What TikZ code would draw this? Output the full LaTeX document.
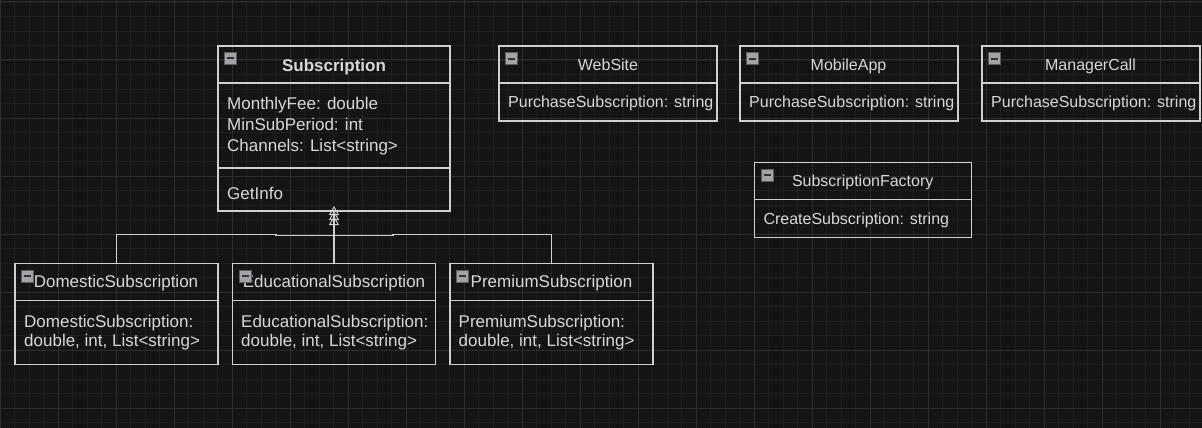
\documentclass[tikz,border=0pt]{standalone}
\usepackage{fontspec}
\setmainfont{Liberation Sans}
\usetikzlibrary{arrows.meta}
\definecolor{bg}{HTML}{141414}
\definecolor{gminor}{HTML}{1F1F1F}
\definecolor{gmajor}{HTML}{2D2D2D}
\definecolor{linec}{HTML}{D0D0D0}
\definecolor{txtc}{HTML}{D8D8D8}
\definecolor{iconf}{HTML}{A0A3A8}
\definecolor{icond}{HTML}{5C5E62}
\tikzset{
  box/.style={draw=linec, line width=1.3pt, inner sep=0pt, outer sep=0pt, anchor=north west},
  divline/.style={draw=linec, line width=1.3pt},
  lbl/.style={text=txtc, inner sep=0pt, anchor=base west, font=\fontsize{17}{20}\selectfont},
  lbls/.style={text=txtc, inner sep=0pt, anchor=base west, font=\fontsize{16}{19}\selectfont},
  ttl/.style={text=txtc, inner sep=0pt, anchor=base, font=\fontsize{17}{20}\selectfont},
  ttls/.style={text=txtc, inner sep=0pt, anchor=base, font=\fontsize{16}{19}\selectfont},
  edge/.style={draw=linec, line width=1.3pt, -{Triangle[open, length=9pt, width=10pt, line width=1pt]}},
  minusicon/.pic={
    \draw[draw=icond, fill=iconf, line width=0.8pt] (0,0) rectangle (12,12);
    \draw[draw=black!80, line width=2pt] (2.5,6) -- (9.5,6);
  },
  gridminor/.style={draw=gminor, line width=0.9pt},
  gridmajor/.style={draw=gmajor, line width=1pt}
}
\begin{document}
\begin{tikzpicture}[x=1pt, y=-1pt]
\useasboundingbox (0,0) rectangle (1202,428);
\fill[bg] (0,0) rectangle (1202,428);
% grid
\foreach \i in {0,...,82} { \pgfmathsetmacro\gx{0.3+14.5*\i} \draw[gridminor] (\gx,0) -- (\gx,428); }
\foreach \j in {0,...,29} { \pgfmathsetmacro\gy{2+14.5*\j} \draw[gridminor] (0,\gy) -- (1202,\gy); }
\foreach \i in {0,...,20} { \pgfmathsetmacro\gx{0.3+58*\i} \draw[gridmajor] (\gx,0) -- (\gx,428); }
\foreach \j in {0,...,7} { \pgfmathsetmacro\gy{2+58*\j} \draw[gridmajor] (0,\gy) -- (1202,\gy); }

% Subscription
\node[box, minimum width=232pt, minimum height=165pt] (sub) at (218,46) {};
\draw[divline] (sub.west |- 0,83) -- (sub.east |- 0,83);
\draw[divline] (sub.west |- 0,168) -- (sub.east |- 0,168);
\pic at (224,52) {minusicon};
\node[ttl, font=\fontsize{17}{20}\selectfont\bfseries] (subt) at (334,71.7) {Subscription};
\node[lbl] (suba1) at (227,109) {MonthlyFee: double};
\node[lbl] (suba2) at (227,130) {MinSubPeriod: int};
\node[lbl] (suba3) at (227,151) {Channels: List<string>};
\node[lbl] (subm1) at (227,199) {GetInfo};

% WebSite
\node[box, minimum width=218pt, minimum height=75pt] (web) at (499,46) {};
\draw[divline] (web.west |- 0,83) -- (web.east |- 0,83);
\pic at (505,52.7) {minusicon};
\node[ttls] (webt) at (608,70.3) {WebSite};
\node[lbls] (weba) at (508,107.7) {PurchaseSubscription: string};

% MobileApp
\node[box, minimum width=218pt, minimum height=75pt] (mob) at (740,46) {};
\draw[divline] (mob.west |- 0,83) -- (mob.east |- 0,83);
\pic at (746,52.7) {minusicon};
\node[ttls] (mobt) at (848.5,70.3) {MobileApp};
\node[lbls] (moba) at (749,107.7) {PurchaseSubscription: string};

% ManagerCall
\node[box, minimum width=218pt, minimum height=75pt] (mgr) at (982,46) {};
\draw[divline] (mgr.west |- 0,83) -- (mgr.east |- 0,83);
\pic at (988,52.7) {minusicon};
\node[ttls] (mgrt) at (1090.5,70.3) {ManagerCall};
\node[lbls] (mgra) at (991,107.7) {PurchaseSubscription: string};

% SubscriptionFactory
\node[box, minimum width=217pt, minimum height=75pt] (fac) at (754.5,162.3) {};
\draw[divline] (fac.west |- 0,199.5) -- (fac.east |- 0,199.5);
\pic at (761,169) {minusicon};
\node[ttls] (fact) at (862.7,186) {SubscriptionFactory};
\node[lbls] (faca) at (763.3,224) {CreateSubscription: string};

% DomesticSubscription
\node[box, minimum width=203pt, minimum height=101.5pt] (dom) at (15,263.3) {};
\draw[divline] (dom.west |- 0,300.7) -- (dom.east |- 0,300.7);
\pic at (21,270) {minusicon};
\node[ttl] (domt) at (116,287.7) {DomesticSubscription};
\node[lbl] (doma1) at (24,327.3) {DomesticSubscription:};
\node[lbl] (doma2) at (24,346.7) {double, int, List<string>};

% EducationalSubscription
\node[box, minimum width=203pt, minimum height=101.5pt] (edu) at (232.5,263.3) {};
\draw[divline] (edu.west |- 0,300.7) -- (edu.east |- 0,300.7);
\node[ttl] (edut) at (334,287.7) {EducationalSubscription};
\pic at (239,270) {minusicon};
\begin{scope}
\clip (232.5,300) rectangle (435.5,365);
\node[lbl] (edua1) at (241,327.3) {EducationalSubscription:};
\end{scope}
\node[lbl] (edua2) at (241,346.7) {double, int, List<string>};

% PremiumSubscription
\node[box, minimum width=203pt, minimum height=101.5pt] (pre) at (450,263.3) {};
\draw[divline] (pre.west |- 0,300.7) -- (pre.east |- 0,300.7);
\pic at (456,270) {minusicon};
\node[ttl] (pret) at (551.5,287.7) {PremiumSubscription};
\node[lbl] (prea1) at (458.5,327.3) {PremiumSubscription:};
\node[lbl] (prea2) at (458.5,346.7) {double, int, List<string>};

% inheritance connectors
\draw[edge] (dom.north) -- (dom.north |- 0,234.3) -- (276,234.3) -- (276,235.8) -- (334,235.8) -- ([yshift=5pt]sub.south);
\draw[edge] (pre.north) -- (pre.north |- 0,234.3) -- (393,234.3) -- (393,235.8) -- (334,235.8) -- (sub.south);
\draw[edge] (edu.north) -- ([yshift=-5pt]sub.south);
\end{tikzpicture}
\end{document}
